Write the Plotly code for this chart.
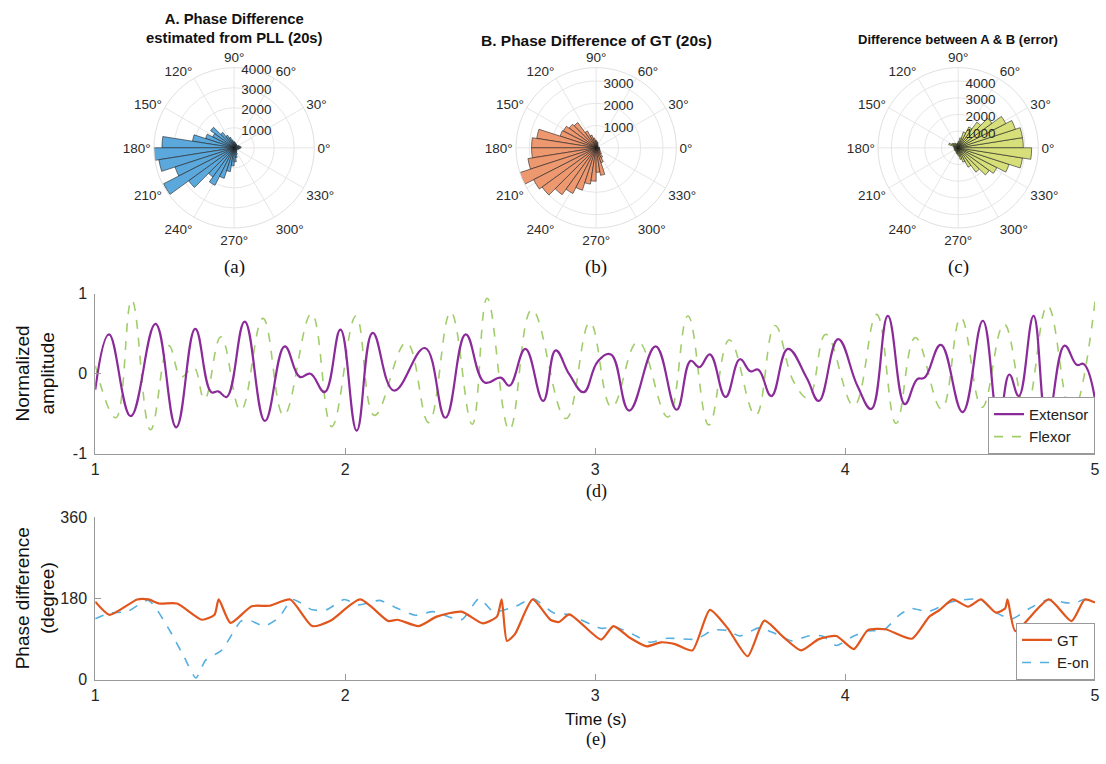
import plotly.graph_objects as go

# ---------------- polar histogram data (9-degree bins) ----------------
bin_start = list(range(0, 360, 9))
pll_counts = [350, 300, 250, 200, 180, 200, 220, 200, 250, 300,
              300, 400, 550, 700, 950, 1450, 1200, 1500, 2100, 3600,
              4000, 3800, 3100, 3950, 2800, 1800, 2100, 1600, 1200, 900,
              700, 500, 350, 250, 200, 180, 160, 180, 250, 300]
gt_counts = [150, 120, 100, 100, 100, 120, 150, 200, 250, 300,
             350, 450, 600, 850, 1400, 1500, 1650, 1700, 2700, 2900,
             2900, 3100, 3600, 3150, 3000, 2600, 2300, 2000, 1650, 1500,
             1100, 1250, 700, 500, 350, 250, 200, 180, 160, 150]
err_counts = [3900, 3900, 3600, 3200, 2500, 1900, 1400, 1000, 600, 400,
              300, 250, 250, 300, 350, 400, 450, 600, 300, 250,
              250, 250, 250, 250, 250, 250, 250, 300, 350, 400,
              500, 700, 900, 1300, 1800, 2300, 2600, 3200, 3900, 4400]

# ---------------- (d) normalized amplitude ----------------
ext_t = [1.000, 1.055, 1.142, 1.241, 1.324, 1.400, 1.464, 1.492, 1.526, 1.598,
         1.679, 1.758, 1.818, 1.861, 1.918, 1.981, 2.046, 2.110, 2.195, 2.319,
         2.401, 2.482, 2.558, 2.622, 2.657, 2.721, 2.792, 2.842, 2.897, 2.954,
         3.010, 3.063, 3.136, 3.242, 3.326, 3.382, 3.417, 3.459, 3.522, 3.579,
         3.621, 3.653, 3.705, 3.771, 3.846, 3.895, 3.972, 4.049, 4.105, 4.171,
         4.239, 4.288, 4.318, 4.383, 4.470, 4.551, 4.614, 4.657, 4.695, 4.754,
         4.808, 4.878, 4.927, 4.955, 5.000]
ext_v = [-0.20, 0.49, -0.53, 0.62, -0.67, 0.56, -0.23, -0.22, -0.29, 0.65,
         -0.59, 0.34, -0.04, 0.00, -0.23, 0.55, -0.71, 0.51, -0.21, 0.32,
         -0.55, 0.49, -0.11, -0.05, -0.15, 0.31, -0.34, 0.29, -0.01, -0.23,
         0.15, 0.24, -0.46, 0.34, -0.45, 0.16, 0.08, 0.24, -0.29, 0.18,
         0.03, 0.05, -0.28, 0.31, -0.05, -0.34, 0.43, -0.15, -0.44, 0.72,
         -0.38, -0.07, -0.05, 0.36, -0.48, 0.66, -0.60, -0.01, -0.28, 0.72,
         -0.62, 0.35, 0.11, 0.12, -0.32]
flx_t = [1.000, 1.082, 1.146, 1.221, 1.294, 1.344, 1.393, 1.437, 1.503, 1.582,
         1.671, 1.754, 1.865, 1.946, 2.043, 2.117, 2.245, 2.334, 2.422, 2.508,
         2.568, 2.657, 2.747, 2.883, 2.979, 3.066, 3.171, 3.291, 3.371, 3.455,
         3.537, 3.642, 3.719, 3.796, 3.853, 3.923, 4.035, 4.126, 4.204, 4.281,
         4.386, 4.463, 4.548, 4.636, 4.723, 4.810, 4.906, 5.000]
flx_v = [0.10, -0.55, 0.92, -0.70, 0.35, -0.04, 0.08, -0.32, 0.46, -0.46,
         0.69, -0.52, 0.75, -0.66, 0.72, -0.52, 0.39, -0.61, 0.77, -0.63,
         0.94, -0.70, 0.80, -0.56, 0.64, -0.42, 0.40, -0.54, 0.72, -0.64,
         0.42, -0.52, 0.60, -0.11, -0.30, 0.49, -0.40, 0.74, -0.62, 0.45,
         -0.44, 0.70, -0.42, 0.62, -0.44, 0.85, -0.50, 0.90]

# ---------------- (e) phase difference ----------------
gt_t = [1.000, 1.057, 1.168, 1.213, 1.256, 1.327, 1.427, 1.477, 1.494, 1.541,
        1.626, 1.697, 1.780, 1.868, 1.939, 2.060, 2.173, 2.209, 2.294, 2.366,
        2.465, 2.551, 2.607, 2.626, 2.647, 2.679, 2.750, 2.821, 2.855, 2.897,
        3.024, 3.073, 3.136, 3.206, 3.263, 3.319, 3.389, 3.459, 3.529, 3.610,
        3.677, 3.754, 3.824, 3.895, 3.965, 4.035, 4.091, 4.161, 4.267, 4.337,
        4.379, 4.431, 4.492, 4.544, 4.603, 4.640, 4.650, 4.681, 4.815, 4.906,
        4.959, 5.000]
gt_v = [173, 144, 178, 178, 169, 169, 133, 144, 178, 126,
        163, 164, 178, 119, 130, 178, 130, 133, 119, 140,
        151, 125, 140, 178, 86, 101, 178, 133, 128, 145,
        89, 119, 94, 74, 83, 79, 65, 155, 115, 52,
        131, 94, 65, 90, 97, 68, 110, 112, 91, 140,
        155, 178, 162, 178, 149, 158, 178, 108, 178, 130,
        178, 171]
eon_t = [1.000, 1.057, 1.128, 1.213, 1.299, 1.356, 1.403, 1.441, 1.505, 1.583,
         1.612, 1.676, 1.733, 1.790, 1.868, 1.925, 1.996, 2.053, 2.138, 2.195,
         2.280, 2.351, 2.465, 2.536, 2.593, 2.679, 2.750, 2.835, 2.897, 3.024,
         3.080, 3.150, 3.220, 3.290, 3.403, 3.473, 3.530, 3.579, 3.656, 3.726,
         3.789, 3.853, 3.909, 3.965, 4.035, 4.091, 4.154, 4.218, 4.267, 4.330,
         4.428, 4.541, 4.597, 4.667, 4.737, 4.815, 4.878, 4.920, 4.955, 5.000]
eon_v = [135, 148, 151, 176, 108, 50, 4, 43, 65, 130,
         133, 119, 137, 178, 155, 155, 178, 166, 176, 162,
         143, 151, 133, 180, 151, 162, 180, 148, 144, 114,
         117, 101, 83, 92, 90, 110, 109, 97, 115, 101,
         86, 97, 97, 76, 97, 108, 110, 144, 158, 151,
         173, 178, 151, 135, 158, 178, 171, 170, 178, 173]

W, H = 1106, 764
def px(x): return x / W
def py(y): return 1 - y / H

fig = go.Figure()

polars = [
    ("polar", pll_counts, "#5BA8DC", 232, 4000, [1000, 2000, 3000, 4000]),
    ("polar2", gt_counts, "#EE9870", 597, 3600, [1000, 2000, 3000]),
    ("polar3", err_counts, "#D6DF7A", 962, 4800, [1000, 2000, 3000, 4000]),
]
theta_c = [b + 4.5 for b in bin_start]
R = 82
CY = 143
pfont = dict(size=13.5, color="#2a2a2a", family="Liberation Sans, Arial")
layout_polars = {}
for name, counts, color, cx, rmax, rt in polars:
    fig.add_trace(go.Barpolar(r=counts, theta=theta_c, width=[9] * len(theta_c),
                              marker=dict(color=color, line=dict(color="#222", width=0.6)),
                              subplot=name, showlegend=False))
    layout_polars[name] = dict(
        domain=dict(x=[px(cx - R), px(cx + R)], y=[py(CY + R), py(CY - R)]),
        bgcolor="white",
        angularaxis=dict(direction="counterclockwise", rotation=0,
                         tickvals=list(range(0, 360, 30)),
                         ticktext=[f"{a}°" for a in range(0, 360, 30)],
                         showline=True, linecolor="#e0e0e0", gridcolor="#e6e6e6",
                         ticks="", tickfont=pfont),
        radialaxis=dict(range=[0, rmax], tickvals=rt, angle=90, showline=False,
                        ticks="", gridcolor="#e6e6e6", tickfont=pfont),
    )

# line plots
fig.add_trace(go.Scatter(x=flx_t, y=flx_v, mode="lines", name="Flexor",
                         line=dict(color="#A3CD6C", width=1.6, dash="dash",
                                   shape="spline", smoothing=1.2),
                         xaxis="x", yaxis="y", legend="legend", legendrank=2))
fig.add_trace(go.Scatter(x=ext_t, y=ext_v, mode="lines", name="Extensor",
                         line=dict(color="#8B2A99", width=2.2,
                                   shape="spline", smoothing=1.2),
                         xaxis="x", yaxis="y", legend="legend", legendrank=1))
fig.add_trace(go.Scatter(x=eon_t, y=eon_v, mode="lines", name="E-on",
                         line=dict(color="#55AFE0", width=1.6, dash="dash",
                                   shape="spline", smoothing=0.6),
                         xaxis="x2", yaxis="y2", legend="legend2", legendrank=2))
fig.add_trace(go.Scatter(x=gt_t, y=gt_v, mode="lines", name="GT",
                         line=dict(color="#E0561C", width=2.2,
                                   shape="spline", smoothing=0.6),
                         xaxis="x2", yaxis="y2", legend="legend2", legendrank=1))

axfont = dict(size=16, color="#262626", family="Liberation Sans, Arial")
common = dict(showline=True, linecolor="#9a9a9a", linewidth=1, ticks="inside",
              ticklen=6, tickcolor="#9a9a9a", showgrid=False, zeroline=False,
              tickfont=axfont)
xd = [px(92), px(1100)]

fig.update_layout(
    width=W, height=H, margin=dict(l=0, r=0, t=0, b=0),
    paper_bgcolor="white", plot_bgcolor="white",
    font=dict(family="Liberation Sans, Arial", color="#222"),
    xaxis=dict(domain=xd, range=[1, 5], tickvals=[1, 2, 3, 4, 5], anchor="y",
               ticklabelstandoff=1, **common),
    yaxis=dict(domain=[py(456), py(292)], range=[-1, 1], tickvals=[-1, 0, 1],
               ticktext=["-1", "0", "1"], anchor="x", ticklabelstandoff=4, **common),
    xaxis2=dict(domain=xd, range=[1, 5], tickvals=[1, 2, 3, 4, 5], anchor="y2",
                ticklabelstandoff=1, **common),
    yaxis2=dict(domain=[py(687), py(521)], range=[0, 360], tickvals=[0, 180, 360],
                anchor="x2", ticklabelstandoff=4, **common),
    legend=dict(x=px(1100), xanchor="right", y=py(456), yanchor="bottom",
                bordercolor="#9a9a9a", borderwidth=1, bgcolor="white",
                font=dict(size=15, color="#222"), tracegroupgap=0),
    legend2=dict(x=px(1100), xanchor="right", y=py(687), yanchor="bottom",
                 bordercolor="#9a9a9a", borderwidth=1, bgcolor="white",
                 font=dict(size=15, color="#222"), tracegroupgap=0),
    **layout_polars,
)

def ann(text, x, y, size, bold=False, family="Liberation Sans, Arial", angle=0):
    fig.add_annotation(text=f"<b>{text}</b>" if bold else text, x=px(x), y=py(y),
                       xref="paper", yref="paper", showarrow=False,
                       font=dict(size=size, family=family, color="#111"),
                       textangle=angle, xanchor="center", yanchor="middle")

ann("A. Phase Difference<br>estimated from PLL (20s)", 232, 21, 14.8, bold=True)
ann("B. Phase Difference of GT (20s)", 597, 33, 15.5, bold=True)
ann("Difference between A & B (error)", 962, 32, 13, bold=True)
serif = "Liberation Serif, Times New Roman"
ann("(a)", 232, 265, 19, family=serif)
ann("(b)", 597, 265, 19, family=serif)
ann("(c)", 962, 265, 19, family=serif)
ann("(d)", 597, 495, 18, family=serif)
ann("(e)", 597, 748, 18, family=serif)
ann("Time (s)", 597, 728, 17)
ann("Normalized<br>amplitude", 31, 374, 19, angle=-90)
ann("Phase difference<br>(degree)", 31, 604, 19, angle=-90)

fig.write_html("out.html")
